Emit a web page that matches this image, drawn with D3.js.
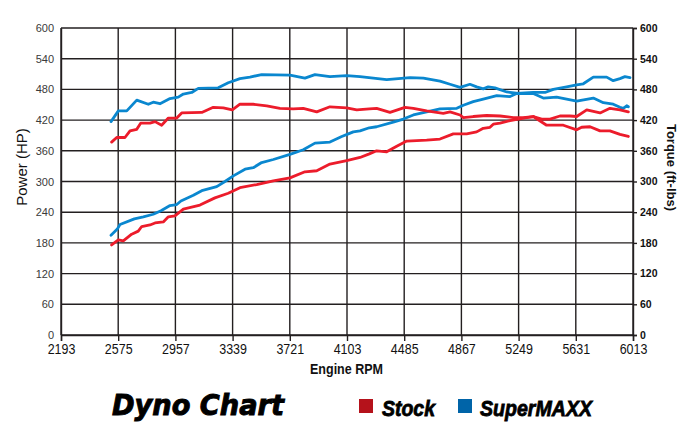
<!DOCTYPE html>
<html>
<head>
<meta charset="utf-8">
<script src="https://cdn.jsdelivr.net/npm/d3@7"></script>
<style>
  html, body { margin: 0; padding: 0; background: #ffffff; }
  svg { display: block; }
</style>
</head>
<body>
<svg id="chart" width="693" height="430"></svg>
<script>
// ---------- data ----------
const rpmTicks = [2193, 2575, 2957, 3339, 3721, 4103, 4485, 4867, 5249, 5631, 6013];
const valueTicks = [0, 60, 120, 180, 240, 300, 360, 420, 480, 540, 600];

const stockHpRpm = [2531,2576,2609,2665,2709,2732,2787,2821,2876,2910,2954,3010,3121,3221,3310,3388,3500,3611,3722,3822,3901,3989,4101,4190,4252,4301,4368,4435,4502,4635,4724,4813,4902,4969,5013,5058,5080,5125,5192,5247,5303,5347,5403,5459,5525,5592,5637,5704,5793,5859,5926,5982];
const stockHp    = [176,186,184,197,203,212,215,219,221,231,233,246,254,268,277,288,294,301,307,319,321,334,341,347,354,360,358,369,379,381,383,393,393,397,404,406,412,414,419,422,425,427,422,422,428,428,427,440,434,443,440,436];

const stockTqRpm = [2531,2565,2620,2654,2699,2725,2787,2821,2865,2910,2966,2999,3133,3210,3277,3337,3388,3477,3567,3655,3744,3811,3901,3989,4101,4168,4252,4301,4390,4490,4546,4635,4746,4791,4858,4880,4946,5035,5125,5214,5280,5347,5436,5548,5637,5670,5726,5793,5859,5926,5982];
const stockTq    = [377,386,386,399,402,414,414,417,410,424,424,434,435,445,444,440,451,451,448,443,442,443,436,446,444,440,442,443,435,445,443,438,433,436,430,425,427,429,428,425,425,427,410,410,401,406,407,399,399,392,388];

const maxxHpRpm = [2527,2569,2587,2683,2743,2809,2861,2921,2966,2994,3077,3133,3233,3288,3344,3422,3477,3533,3611,3722,3811,3889,3989,4068,4112,4145,4190,4252,4301,4412,4479,4546,4635,4724,4836,4880,4946,5013,5103,5192,5236,5347,5425,5481,5570,5637,5681,5748,5837,5881,5926,5959,5993];
const maxxHp    = [195,207,216,227,231,236,243,253,255,262,273,282,290,300,311,324,327,337,343,353,362,375,377,388,393,397,399,405,407,416,422,430,436,442,443,449,456,461,468,466,472,474,474,480,485,489,491,504,504,497,501,505,503];

const maxxTqRpm = [2527,2576,2632,2699,2776,2809,2854,2921,2976,3010,3066,3110,3243,3310,3388,3455,3533,3722,3822,3889,3989,4101,4190,4368,4524,4613,4724,4791,4858,4924,4969,5013,5046,5091,5170,5247,5347,5414,5503,5570,5637,5748,5815,5881,5926,5948,5971,5982];
const maxxTq    = [417,438,438,459,451,455,452,462,465,471,474,482,483,493,501,504,509,508,502,509,505,507,505,499,503,502,496,490,484,490,485,481,485,483,475,472,472,463,465,461,457,463,454,451,445,443,448,446];

const legendNames = ["Stock", "SuperMAXX"];
const titleText = "Dyno Chart";

// ---------- layout ----------
const svg = d3.select("#chart");
const L = 61, R = 633, T = 28, B = 335;
const RED = "#ec1c2b", BLUE = "#0a87cf";
const GRID = "#231f20";
const NARROW = "'Liberation Sans Narrow','Arial Narrow','Liberation Sans',Arial,sans-serif";

const x = d3.scaleLinear().domain([2193, 6013]).range([L, R]);
const y = d3.scaleLinear().domain([0, 600]).range([B, T]);

svg.append("rect").attr("width", 693).attr("height", 430).attr("fill", "#fff");

// grid
const grid = svg.append("g");
grid.selectAll("line.h").data(valueTicks).join("line")
  .attr("x1", L).attr("x2", R)
  .attr("y1", d => y(d)).attr("y2", d => y(d))
  .attr("stroke", GRID).attr("stroke-width", 1.4);
grid.selectAll("line.v").data(rpmTicks).join("line")
  .attr("x1", d => x(d)).attr("x2", d => x(d))
  .attr("y1", T).attr("y2", B)
  .attr("stroke", GRID).attr("stroke-width", 1.4);

// bottom axis
const xAxis = d3.axisBottom(x).tickValues(rpmTicks).tickSize(6).tickPadding(3).tickFormat(d3.format("d"));
const gx = svg.append("g").attr("transform", `translate(0,${B})`).call(xAxis);
gx.select(".domain").attr("stroke", GRID).attr("stroke-width", 1.4);
gx.selectAll(".tick line").attr("stroke", GRID).attr("stroke-width", 1.4);
gx.selectAll(".tick text").attr("font-family", NARROW).attr("font-size", 14.5).attr("fill", "#111")
  .attr("dy", "0.71em").attr("transform", "scale(0.86,1)");

// left axis
const yAxisL = d3.axisLeft(y).tickValues(valueTicks).tickSize(0).tickPadding(7);
const gl = svg.append("g").attr("transform", `translate(${L},0)`).call(yAxisL);
gl.select(".domain").attr("stroke", GRID).attr("stroke-width", 1.4);
gl.selectAll(".tick text").attr("font-family", "'Liberation Sans',Arial,sans-serif").attr("font-size", 11).attr("fill", "#3a3a3a");

// right axis
const yAxisR = d3.axisRight(y).tickValues(valueTicks).tickSize(4).tickPadding(3);
const gr = svg.append("g").attr("transform", `translate(${R},0)`).call(yAxisR);
gr.select(".domain").attr("stroke", GRID).attr("stroke-width", 1.4);
gr.selectAll(".tick line").attr("stroke", GRID).attr("stroke-width", 1.4);
gr.selectAll(".tick text").attr("font-family", "'Liberation Sans',Arial,sans-serif").attr("font-size", 10.5).attr("font-weight", "bold").attr("fill", "#111");

// axis titles
svg.append("text").text("Power (HP)")
  .attr("transform", "translate(26.5,167) rotate(-90)")
  .attr("text-anchor", "middle").attr("font-family", "'Liberation Sans',Arial,sans-serif")
  .attr("font-size", 15).attr("fill", "#111");
svg.append("text").text("Torque (ft-lbs)")
  .attr("transform", "translate(667,167.5) rotate(90)")
  .attr("text-anchor", "middle").attr("font-family", "'Liberation Sans',Arial,sans-serif")
  .attr("font-size", 13).attr("font-weight", "bold").attr("fill", "#111");
svg.append("text").text("Engine RPM")
  .attr("x", 310).attr("y", 374)
  .attr("font-family", NARROW).attr("font-size", 14.5).attr("font-weight", "bold").attr("fill", "#111")
  .attr("textLength", 73).attr("lengthAdjust", "spacingAndGlyphs");

// lines
const line = d3.line().x(d => x(d[0])).y(d => y(d[1])).curve(d3.curveLinear);
const series = [
  { rpm: maxxTqRpm, v: maxxTq, c: BLUE },
  { rpm: maxxHpRpm, v: maxxHp, c: BLUE },
  { rpm: stockTqRpm, v: stockTq, c: RED },
  { rpm: stockHpRpm, v: stockHp, c: RED }
];
series.forEach(s => {
  svg.append("path")
    .datum(d3.zip(s.rpm, s.v))
    .attr("d", line)
    .attr("fill", "none").attr("stroke", s.c).attr("stroke-width", 2.8)
    .attr("stroke-linejoin", "round").attr("stroke-linecap", "round");
});

// title + legend
svg.append("text").text(titleText)
  .attr("x", 112).attr("y", 415)
  .attr("font-family", "'DejaVu Sans','Liberation Sans',Arial,sans-serif")
  .attr("font-size", 29).attr("font-weight", "bold").attr("font-style", "italic")
  .attr("stroke", "#000").attr("stroke-width", 1)
  .attr("textLength", 172).attr("lengthAdjust", "spacingAndGlyphs");

const legendColors = ["#b5121b", "#0064a8"];
const legendBoxX = [359, 458];
const legendTextX = [382, 480];
const legendTextW = [53, 112];
legendNames.forEach((n, i) => {
  svg.append("rect").attr("x", legendBoxX[i]).attr("y", 399).attr("width", 14).attr("height", 14).attr("fill", legendColors[i]);
  svg.append("text").text(n).attr("x", legendTextX[i]).attr("y", 416)
    .attr("font-family", NARROW).attr("font-size", 22).attr("font-weight", "bold").attr("font-style", "italic")
    .attr("stroke", "#000").attr("stroke-width", 0.8)
    .attr("textLength", legendTextW[i]).attr("lengthAdjust", "spacingAndGlyphs");
});
</script>
</body>
</html>
